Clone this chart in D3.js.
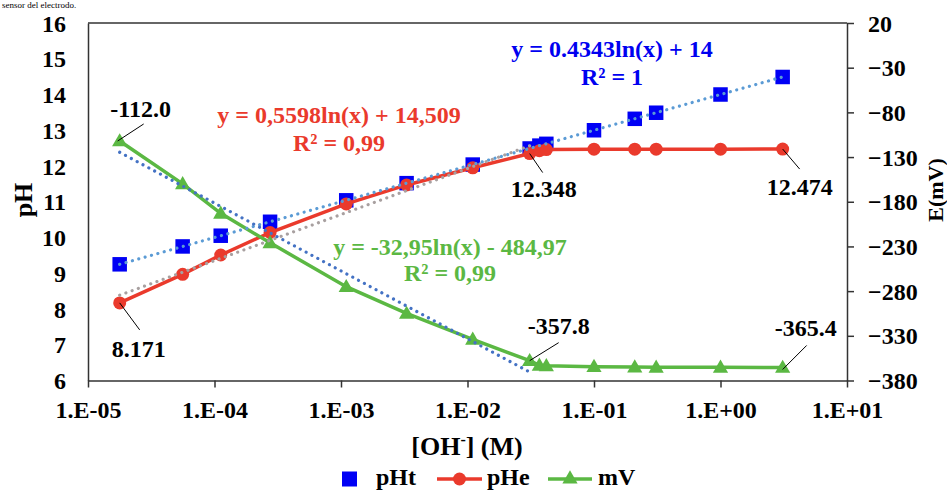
<!DOCTYPE html>
<html><head><meta charset="utf-8">
<script src="https://cdn.jsdelivr.net/npm/d3@7"></script>
<style>
body{margin:0;background:#fff;}
svg{display:block;font-family:"Liberation Serif","Times New Roman",serif;font-weight:bold;}
</style>
</head><body>
<svg id="chart" width="947" height="491"></svg>
<script>
// ---------- data ----------
const concentrations = [1.78e-5, 5.6e-5, 1.12e-4, 2.75e-4, 1.1e-3, 3.3e-3, 1.1e-2, 3.1e-2, 3.7e-2, 4.2e-2, 0.1, 0.21, 0.31, 1.0, 3.1];
const pHtValues = [9.25, 9.75, 10.05, 10.44, 11.04, 11.52, 12.04, 12.49, 12.57, 12.62, 13.0, 13.32, 13.49, 14.0, 14.49];
const pHeValues = [8.171, 8.97, 9.51, 10.14, 10.94, 11.47, 11.95, 12.348, 12.43, 12.46, 12.47, 12.47, 12.47, 12.47, 12.474];
const mVValues = [-112.0, -160, -193, -226, -275, -305, -334, -357.8, -363, -363.5, -364.5, -365, -365.2, -365.3, -365.4];
const seriesNames = ["pHt", "pHe", "mV"];
const xTickValues = [1e-5, 1e-4, 1e-3, 1e-2, 1e-1, 1, 10];
const pHTickValues = [6, 7, 8, 9, 10, 11, 12, 13, 14, 15, 16];
const mVTickValues = [20, -30, -80, -130, -180, -230, -280, -330, -380];
const xTitle = ["[OH", "-", "] (M)"];
const yLeftTitle = "pH";
const yRightTitle = "E(mV)";
// trendlines: y = a*ln(x) + b, over the first n points
const trendCoefA = [0.4343, 0.5598, -32.95];
const trendCoefB = [14, 14.509, -484.97];
const trendCount = [15, 8, 8];
const trendEquations = ["y = 0.4343ln(x) + 14", "y = 0,5598ln(x) + 14,509", "y = -32,95ln(x) - 484,97"];
const trendR2 = ["R² = 1", "R² = 0,99", "R² = 0,99"];
// point labels: series index, point index, text
const labelSeries = [2, 1, 1, 1, 2, 2];
const labelIndex = [0, 0, 7, 14, 7, 14];
const labelText = ["-112.0", "8.171", "12.348", "12.474", "-357.8", "-365.4"];
const topText = "sensor del electrodo.";

// ---------- layout / style ----------
const M = {left: 88, right: 847, top: 23, bottom: 380.5};
const colors = {pHt: "#0000F5", pHe: "#EA3A2C", mV: "#5BB843"};
const trendColors = ["#5B9BD5", "#A8A0A0", "#4472C4"];
const eqColors = ["#0000F0", "#EA3A2C", "#5BB843"];
const eqPos = [[612, 57, 85], [339, 123, 151], [450, 255, 281]];
// label offsets relative to data point: text (center x, baseline), leader start/end
const labelLayout = [
  {tx: 21, ty: -24, l1: [24, -17], l2: [-2, 0]},
  {tx: 19, ty: 54, l1: [20, 27], l2: [0, 0]},
  {tx: 14, ty: 43, l1: [13, 19], l2: [0, 0]},
  {tx: 17, ty: 46, l1: [17, 20], l2: [0, 0]},
  {tx: 29, ty: -27, l1: [29, -18], l2: [0, 0]},
  {tx: 23, ty: -31, l1: [24, -22], l2: [0, 2]}
];

const svg = d3.select("#chart");
const x = d3.scaleLog().domain([1e-5, 10]).range([M.left, M.right]);
const yL = d3.scaleLinear().domain([6, 16]).range([M.bottom, M.top]);
const yR = d3.scaleLinear().domain([-380, 20]).range([M.bottom, M.top]);

// caption text from the page above the chart (kept small so it fits)
svg.append("text").attr("x", 2).attr("y", 8).attr("font-size", 9).attr("font-weight", "normal")
  .attr("fill", "#000").text(topText);

const axisColor = "#333";
svg.append("line").attr("x1", M.left).attr("x2", M.right).attr("y1", M.top).attr("y2", M.top)
  .attr("stroke", axisColor).attr("stroke-width", 1.5);

function fmtX(d) {
  const e = Math.round(Math.log10(d));
  const s = e < 0 ? "-" : "+";
  return "1.E" + s + String(Math.abs(e)).padStart(2, "0");
}
const gx = svg.append("g").attr("transform", `translate(0,${M.bottom})`)
  .call(d3.axisBottom(x).tickValues(xTickValues).tickFormat(fmtX).tickSize(7).tickSizeOuter(0));
const gyl = svg.append("g").attr("transform", `translate(${M.left},0)`)
  .call(d3.axisLeft(yL).tickValues(pHTickValues).tickFormat(d3.format("d")).tickSize(0).tickPadding(22).tickSizeOuter(0));
const gyr = svg.append("g").attr("transform", `translate(${M.right},0)`)
  .call(d3.axisRight(yR).tickValues(mVTickValues).tickFormat(d3.format("d")).tickSize(7).tickPadding(14).tickSizeOuter(0));
[gx, gyl, gyr].forEach(g => {
  g.attr("font-family", null).attr("font-size", 24);
  g.selectAll("path.domain").attr("stroke", axisColor).attr("stroke-width", 1.5);
  g.selectAll(".tick line").attr("stroke", axisColor).attr("stroke-width", 1.5);
  g.selectAll(".tick text").attr("fill", "#000");
});
gx.selectAll(".tick text").attr("y", 37).attr("dy", null);
gyl.selectAll(".tick text").attr("dy", "0.34em");
gyr.selectAll(".tick text").attr("dy", "0.34em");

// axis titles
const xt = svg.append("text").attr("x", 467).attr("y", 455).attr("text-anchor", "middle").attr("font-size", 26);
xt.append("tspan").text(xTitle[0]);
xt.append("tspan").attr("font-size", 16).attr("dy", -10).text(xTitle[1]);
xt.append("tspan").attr("dy", 10).text(xTitle[2]);
svg.append("text").attr("transform", "translate(32,200) rotate(-90)").attr("text-anchor", "middle")
  .attr("font-size", 26).text(yLeftTitle);
svg.append("text").attr("transform", "translate(943,190) rotate(-90)").attr("text-anchor", "middle")
  .attr("font-size", 22).text(yRightTitle);

// series
const pts = concentrations.map((c, i) => ({c, t: pHtValues[i], e: pHeValues[i], v: mVValues[i]}));

const sq = 14.5;
svg.append("g").selectAll("rect").data(pts).join("rect")
  .attr("x", d => x(d.c) - sq / 2).attr("y", d => yL(d.t) - sq / 2)
  .attr("width", sq).attr("height", sq).attr("fill", colors.pHt);

svg.append("path").datum(pts)
  .attr("d", d3.line().x(d => x(d.c)).y(d => yL(d.e)))
  .attr("fill", "none").attr("stroke", colors.pHe).attr("stroke-width", 3.5);
svg.append("g").selectAll("circle").data(pts).join("circle")
  .attr("cx", d => x(d.c)).attr("cy", d => yL(d.e)).attr("r", 6.5).attr("fill", colors.pHe);

svg.append("path").datum(pts)
  .attr("d", d3.line().x(d => x(d.c)).y(d => yR(d.v)))
  .attr("fill", "none").attr("stroke", colors.mV).attr("stroke-width", 3.5);
const tri = d3.symbol().type(d3.symbolTriangle).size(100);
svg.append("g").selectAll("path").data(pts).join("path")
  .attr("d", tri).attr("transform", d => `translate(${x(d.c)},${yR(d.v) + 1})`).attr("fill", colors.mV);

// trendlines (dotted)
const trendScales = [yL, yL, yR];
trendCoefA.forEach((a, k) => {
  const xs = concentrations.slice(0, trendCount[k]);
  const ends = [xs[0], xs[xs.length - 1]];
  svg.append("path").datum(ends)
    .attr("d", d3.line().x(c => x(c)).y(c => trendScales[k](a * Math.log(c) + trendCoefB[k])))
    .attr("fill", "none").attr("stroke", trendColors[k]).attr("stroke-width", 3.2)
    .attr("stroke-linecap", "round").attr("stroke-dasharray", "0.01 6.6");
});

// equations
trendEquations.forEach((eq, k) => {
  svg.append("text").attr("x", eqPos[k][0]).attr("y", eqPos[k][1]).attr("text-anchor", "middle")
    .attr("font-size", 24).attr("fill", eqColors[k]).text(eq);
  svg.append("text").attr("x", eqPos[k][0]).attr("y", eqPos[k][2]).attr("text-anchor", "middle")
    .attr("font-size", 24).attr("fill", eqColors[k]).text(trendR2[k]);
});

// data labels with leader lines
const seriesY = [d => yL(d.t), d => yL(d.e), d => yR(d.v)];
labelText.forEach((t, k) => {
  const p = pts[labelIndex[k]];
  const px = x(p.c), py = seriesY[labelSeries[k]](p);
  const L = labelLayout[k];
  svg.append("line").attr("x1", px + L.l1[0]).attr("y1", py + L.l1[1])
    .attr("x2", px + L.l2[0]).attr("y2", py + L.l2[1]).attr("stroke", "#000").attr("stroke-width", 1);
  svg.append("text").attr("x", px + L.tx).attr("y", py + L.ty).attr("text-anchor", "middle")
    .attr("font-size", 24).attr("fill", "#000").text(t);
});

// legend
const ly = 479;
const lty = 485;
const lg = svg.append("g");
lg.append("rect").attr("x", 342).attr("y", ly - 7.5).attr("width", 15).attr("height", 15).attr("fill", colors.pHt);
lg.append("text").attr("x", 376).attr("y", lty).attr("font-size", 24).text(seriesNames[0]);
lg.append("line").attr("x1", 437).attr("x2", 482).attr("y1", ly).attr("y2", ly).attr("stroke", colors.pHe).attr("stroke-width", 3.5);
lg.append("circle").attr("cx", 459.5).attr("cy", ly).attr("r", 6.5).attr("fill", colors.pHe);
lg.append("text").attr("x", 487).attr("y", lty).attr("font-size", 24).text(seriesNames[1]);
lg.append("line").attr("x1", 548).attr("x2", 592).attr("y1", ly).attr("y2", ly).attr("stroke", colors.mV).attr("stroke-width", 3.5);
lg.append("path").attr("d", tri).attr("transform", `translate(570,${ly})`).attr("fill", colors.mV);
lg.append("text").attr("x", 598).attr("y", lty).attr("font-size", 24).text(seriesNames[2]);
</script>
</body></html>
